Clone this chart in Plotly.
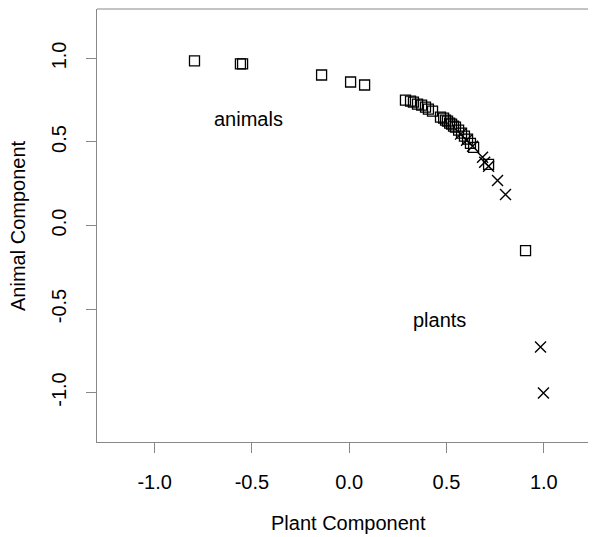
import plotly.graph_objects as go

# animals (squares)
animal_x = [-0.795, -0.559, -0.548, -0.142, 0.007, 0.079, 0.289, 0.315, 0.330, 0.351, 0.372, 0.392,
            0.407, 0.428, 0.469, 0.485, 0.495, 0.505, 0.516, 0.526, 0.536, 0.546, 0.562, 0.577,
            0.592, 0.608, 0.623, 0.639, 0.716, 0.906]
animal_y = [0.985, 0.967, 0.967, 0.901, 0.859, 0.841, 0.751, 0.745, 0.739, 0.727, 0.721, 0.709,
            0.697, 0.685, 0.649, 0.643, 0.631, 0.625, 0.613, 0.607, 0.595, 0.589, 0.571, 0.553,
            0.535, 0.517, 0.492, 0.468, 0.366, -0.150]
# plants (crosses)
plant_x = [0.572, 0.603, 0.634, 0.685, 0.696, 0.716, 0.762, 0.803, 0.983, 0.998]
plant_y = [0.547, 0.511, 0.474, 0.408, 0.378, 0.354, 0.270, 0.186, -0.727, -1.003]

tick_vals = [-1.0, -0.5, 0.0, 0.5, 1.0]
tick_text = ["-1.0", "-0.5", "0.0", "0.5", "1.0"]

FONT = "Liberation Sans, Arial, sans-serif"
AX = "#888888"
FS = 20

fig = go.Figure()
fig.add_trace(go.Scatter(x=animal_x, y=animal_y, mode="markers",
                         marker=dict(symbol="square-open", size=10, color="black",
                                     line=dict(width=1.3, color="black")),
                         showlegend=False))
fig.add_trace(go.Scatter(x=plant_x, y=plant_y, mode="markers",
                         marker=dict(symbol="x-thin-open", size=11, color="black",
                                     line=dict(width=1.4, color="black")),
                         showlegend=False))

fig.add_annotation(x=-0.518, y=0.637, text="animals", showarrow=False,
                   font=dict(family=FONT, size=FS, color="black"))
fig.add_annotation(x=0.464, y=-0.565, text="plants", showarrow=False,
                   font=dict(family=FONT, size=FS, color="black"))

# axis titles (plot area spans 499 x 433 px)
fig.add_annotation(xref="paper", yref="paper", x=(348 - 97) / 499, y=(442 - 523) / 433,
                   text="Plant Component", showarrow=False, xanchor="center", yanchor="middle",
                   font=dict(family=FONT, size=FS, color="black"))
fig.add_annotation(xref="paper", yref="paper", x=(18 - 97) / 499, y=(442 - 226) / 433,
                   text="Animal Component", showarrow=False, textangle=-90,
                   xanchor="center", yanchor="middle",
                   font=dict(family=FONT, size=FS, color="black"))

# top border line
fig.add_shape(type="line", xref="paper", yref="paper", x0=0, x1=1, y0=1, y1=1,
              line=dict(color=AX, width=1))

fig.update_xaxes(range=[-1.296, 1.268], tickvals=tick_vals, ticktext=tick_text,
                 showgrid=False, zeroline=False, showline=True, linecolor=AX, linewidth=1,
                 ticks="outside", ticklen=10, tickcolor=AX, tickwidth=1,
                 ticklabelstandoff=12, automargin=False,
                 tickfont=dict(family=FONT, size=FS, color="black"))
fig.update_yaxes(range=[-1.296, 1.296], tickvals=tick_vals, ticktext=tick_text,
                 showgrid=False, zeroline=False, showline=True, linecolor=AX, linewidth=1,
                 ticks="outside", ticklen=10, tickcolor=AX, tickwidth=1,
                 tickangle=-90, ticklabelstandoff=12, automargin=False,
                 tickfont=dict(family=FONT, size=FS, color="black"))

# page body has an 8px margin: figure is offset by (8, 8) in the window
fig.update_layout(width=588, height=529, margin=dict(l=89, r=0, t=1, b=95),
                  plot_bgcolor="white", paper_bgcolor="white")
fig.write_html("out.html")
